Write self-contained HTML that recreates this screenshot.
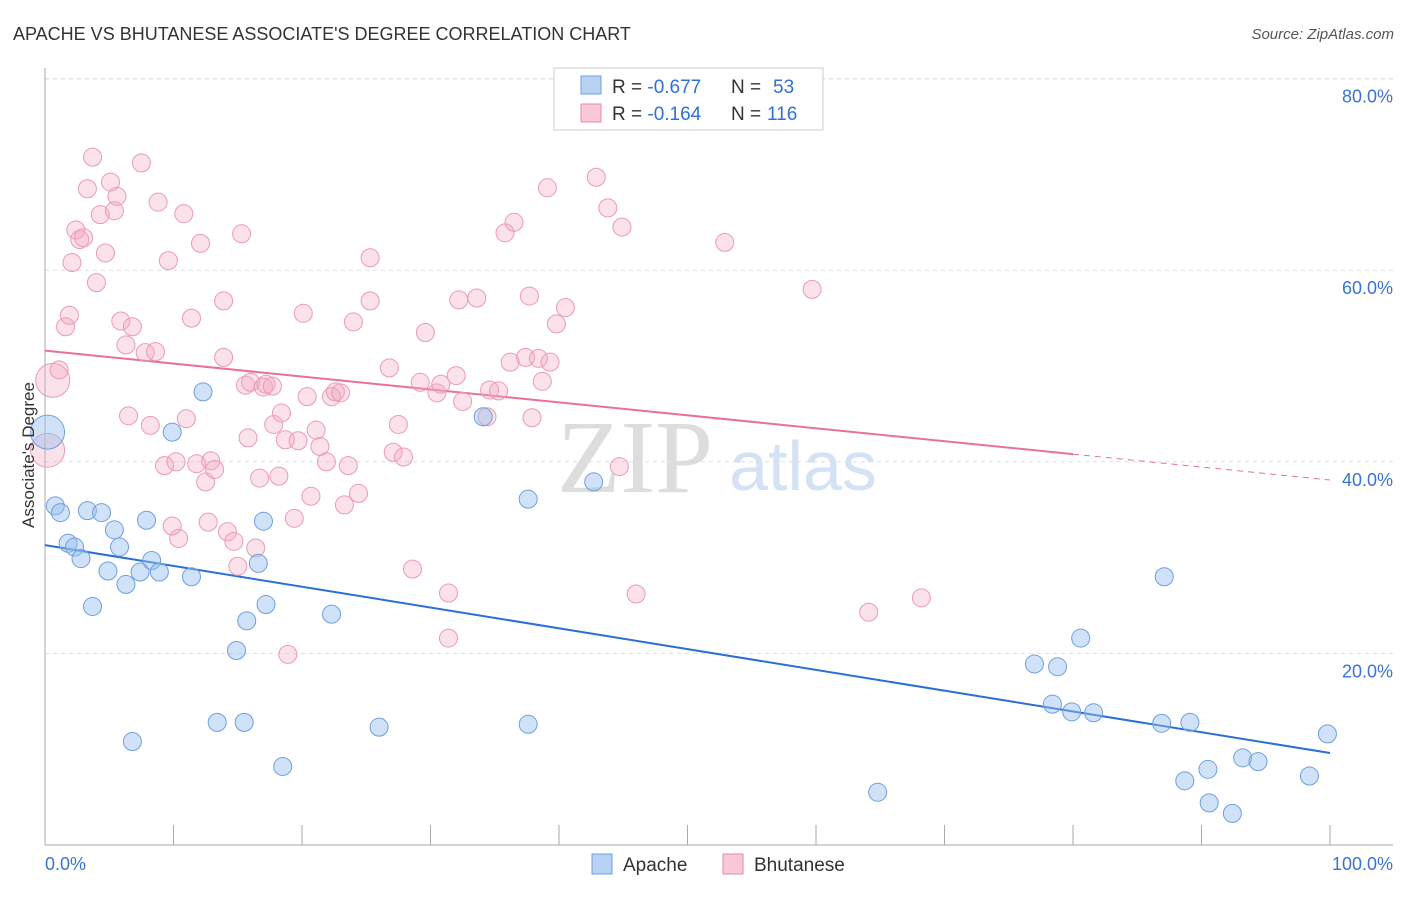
<!DOCTYPE html>
<html><head><meta charset="utf-8"><style>
body{margin:0;background:#fff;font-family:"Liberation Sans",sans-serif}
svg text{font-family:"Liberation Sans",sans-serif}
</style></head><body>
<svg id="c" width="1406" height="892">
<text x="13" y="40" font-size="18" fill="#333">APACHE VS BHUTANESE ASSOCIATE'S DEGREE CORRELATION CHART</text>
<text x="1394" y="39" font-size="15" fill="#555" font-style="italic" text-anchor="end">Source: ZipAtlas.com</text>
<text x="635" y="492" font-size="104" fill="#ddd" text-anchor="middle" style="font-family:'Liberation Serif',serif">ZIP</text>
<text x="803" y="490" font-size="70" fill="#d4e2f4" text-anchor="middle">atlas</text>
<g id="grid"></g><g id="axes"></g><g id="trend"></g><g id="pts"></g>
<text x="34" y="455" font-size="17" fill="#333" text-anchor="middle" transform="rotate(-90 34 455)">Associate's Degree</text>
<g>
<rect x="554" y="68" width="269" height="62" fill="#fff" stroke="#ccc"/>
<rect x="581" y="76" width="20" height="18" fill="#b8d2f4" stroke="#6f9fe0"/>
<rect x="581" y="104" width="20" height="18" fill="#f9c8d8" stroke="#e88aa8"/>
<text x="612" y="93" font-size="19" fill="#333">R = <tspan fill="#2f6fd6">-0.677</tspan><tspan x="731">N = </tspan><tspan x="773" fill="#2f6fd6">53</tspan></text>
<text x="612" y="120" font-size="19" fill="#333">R = <tspan fill="#2f6fd6">-0.164</tspan><tspan x="731">N = </tspan><tspan x="767" fill="#2f6fd6">116</tspan></text>
</g>
<g>
<rect x="592" y="854" width="20" height="20" fill="#b8d2f4" stroke="#6f9fe0"/>
<text x="623" y="871" font-size="19" fill="#333">Apache</text>
<rect x="723" y="854" width="20" height="20" fill="#f9c8d8" stroke="#e88aa8"/>
<text x="754" y="871" font-size="19" fill="#333">Bhutanese</text>
</g>
</svg>
<script>
const yTicks=[20,40,60,80];
const yTickLabels=["20.0%","40.0%","60.0%","80.0%"];
const xTickVals=[0,10,20,30,40,50,60,70,80,90,100];
const apacheX=[0.2,0.8,1.2,1.8,2.3,2.8,3.3,3.7,4.4,4.9,5.4,5.8,6.3,6.8,7.4,7.9,8.3,8.9,9.9,11.4,12.3,13.4,14.9,15.5,15.7,16.6,17.0,17.2,18.5,22.3,26.0,34.1,37.6,37.6,42.7,64.8,77.0,78.4,78.8,79.9,80.6,81.6,86.9,87.1,88.7,89.1,90.5,90.6,92.4,93.2,94.4,98.4,99.8];
const apacheY=[43.1,35.4,34.7,31.5,31.1,29.9,34.9,24.9,34.7,28.6,32.9,31.1,27.2,10.8,28.5,33.9,29.7,28.5,43.1,28.0,47.3,12.8,20.3,12.8,23.4,29.4,33.8,25.1,8.2,24.1,12.3,44.7,36.1,12.6,37.9,5.5,18.9,14.7,18.6,13.9,21.6,13.8,12.7,28.0,6.7,12.8,7.9,4.4,3.3,9.1,8.7,7.2,11.6];
const bhutX=[0.2,0.6,1.1,1.6,1.9,2.1,2.4,2.7,3.0,3.3,3.7,4.0,4.3,4.7,5.1,5.4,5.6,5.9,6.3,6.5,6.8,7.5,7.8,8.2,8.6,8.8,9.3,9.6,9.9,10.2,10.4,10.8,11.0,11.4,11.8,12.1,12.5,12.7,12.9,13.2,13.9,13.9,14.2,14.7,15.0,15.3,15.6,15.8,16.0,16.4,16.7,17.0,17.2,17.7,17.8,18.2,18.4,18.7,18.9,19.4,19.7,20.1,20.4,20.7,21.1,21.4,21.9,22.3,22.6,23.0,23.3,23.6,24.0,24.4,25.3,25.3,26.8,27.1,27.5,27.9,28.6,29.2,29.6,30.5,30.8,31.4,31.4,32.0,32.2,32.5,33.6,34.4,34.6,35.3,35.8,36.2,36.5,37.4,37.7,37.9,38.4,38.7,39.1,39.3,39.8,40.5,42.9,43.8,44.7,44.9,46.0,52.9,59.7,64.1,68.2];
const bhutY=[41.2,48.5,49.6,54.1,55.3,60.8,64.2,63.2,63.4,68.5,71.8,58.7,65.8,61.8,69.2,66.2,67.7,54.7,52.2,44.8,54.1,71.2,51.4,43.8,51.5,67.1,39.6,61.0,33.3,40.0,32.0,65.9,44.5,55.0,39.8,62.8,37.9,33.7,40.1,39.2,56.8,50.9,32.7,31.7,29.1,63.8,48.0,42.5,48.3,31.0,38.3,47.8,48.1,47.9,43.9,38.5,45.1,42.3,19.9,34.1,42.2,55.5,46.8,36.4,43.3,41.6,40.0,46.8,47.3,47.2,35.5,39.6,54.6,36.7,56.8,61.3,49.8,41.0,43.9,40.5,28.8,48.3,53.5,47.2,48.1,26.3,21.6,49.0,56.9,46.3,57.1,44.7,47.5,47.4,63.9,50.4,65.0,50.9,57.3,44.6,50.8,48.4,68.6,50.4,54.4,56.1,69.7,66.5,39.5,64.5,26.2,62.9,58.0,24.3,25.8];
const apacheTrend=[31.3,-0.217];
const bhutTrend=[51.6,-0.135];
const NS="http://www.w3.org/2000/svg";
const X=v=>45+v*12.85, Y=v=>845-v*9.58;
function mk(tag,attrs,parent){const e=document.createElementNS(NS,tag);for(const k in attrs)e.setAttribute(k,attrs[k]);document.getElementById(parent).appendChild(e);return e;}
yTicks.forEach((t,i)=>{
 const g=mk('line',{x1:45,x2:1393,y1:Y(t),y2:Y(t),stroke:'#ddd','stroke-dasharray':'4,4'},'grid');
 
 
 const l=mk('text',{x:1393,y:Y(t)+24,'font-size':18,fill:'#3a74d0','text-anchor':'end'},'grid');
 l.textContent=yTickLabels[i];
 
 
});
const topLine=mk('line',{x1:45,x2:1393,y1:79,y2:79,stroke:'#ddd','stroke-dasharray':'4,4'},'grid');


const ya=mk('line',{x1:45,x2:45,y1:68,y2:845,stroke:'#aaa'},'axes');


const xa=mk('line',{x1:45,x2:1393,y1:845,y2:845,stroke:'#aaa'},'axes');


xTickVals.forEach(v=>{
 const t=mk('line',{x1:X(v),x2:X(v),y1:825,y2:845,stroke:'#aaa'},'axes');
 
 
});
const xl0=mk('text',{x:45,y:870,'font-size':18,fill:'#3a74d0'},'axes');xl0.textContent='0.0%';


const xl1=mk('text',{x:1393,y:870,'font-size':18,fill:'#3a74d0','text-anchor':'end'},'axes');xl1.textContent='100.0%';


bhutX.forEach((x,i)=>{
 const c=mk('circle',{cx:X(x),cy:Y(bhutY[i]),r:i<2?17:9,fill:'rgba(244,170,196,0.35)',stroke:'#eb9ab6','stroke-width':1},'pts');
 
 
});
apacheX.forEach((x,i)=>{
 const c=mk('circle',{cx:X(x),cy:Y(apacheY[i]),r:i==0?17:9,fill:'rgba(150,190,240,0.45)',stroke:'#6f9fe0','stroke-width':1},'pts');
 
 
});
const at=mk('line',{x1:X(0),y1:Y(apacheTrend[0]),x2:X(100),y2:Y(apacheTrend[0]+apacheTrend[1]*100),stroke:'#2b6fd6','stroke-width':2},'trend');


const bt=mk('line',{x1:X(0),y1:Y(bhutTrend[0]),x2:X(80),y2:Y(bhutTrend[0]+bhutTrend[1]*80),stroke:'#e8709a','stroke-width':2},'trend');


const bd=mk('line',{x1:X(80),y1:Y(bhutTrend[0]+bhutTrend[1]*80),x2:X(100),y2:Y(bhutTrend[0]+bhutTrend[1]*100),stroke:'#e8709a','stroke-width':1,'stroke-dasharray':'6,5'},'trend');


</script>
</body></html>
